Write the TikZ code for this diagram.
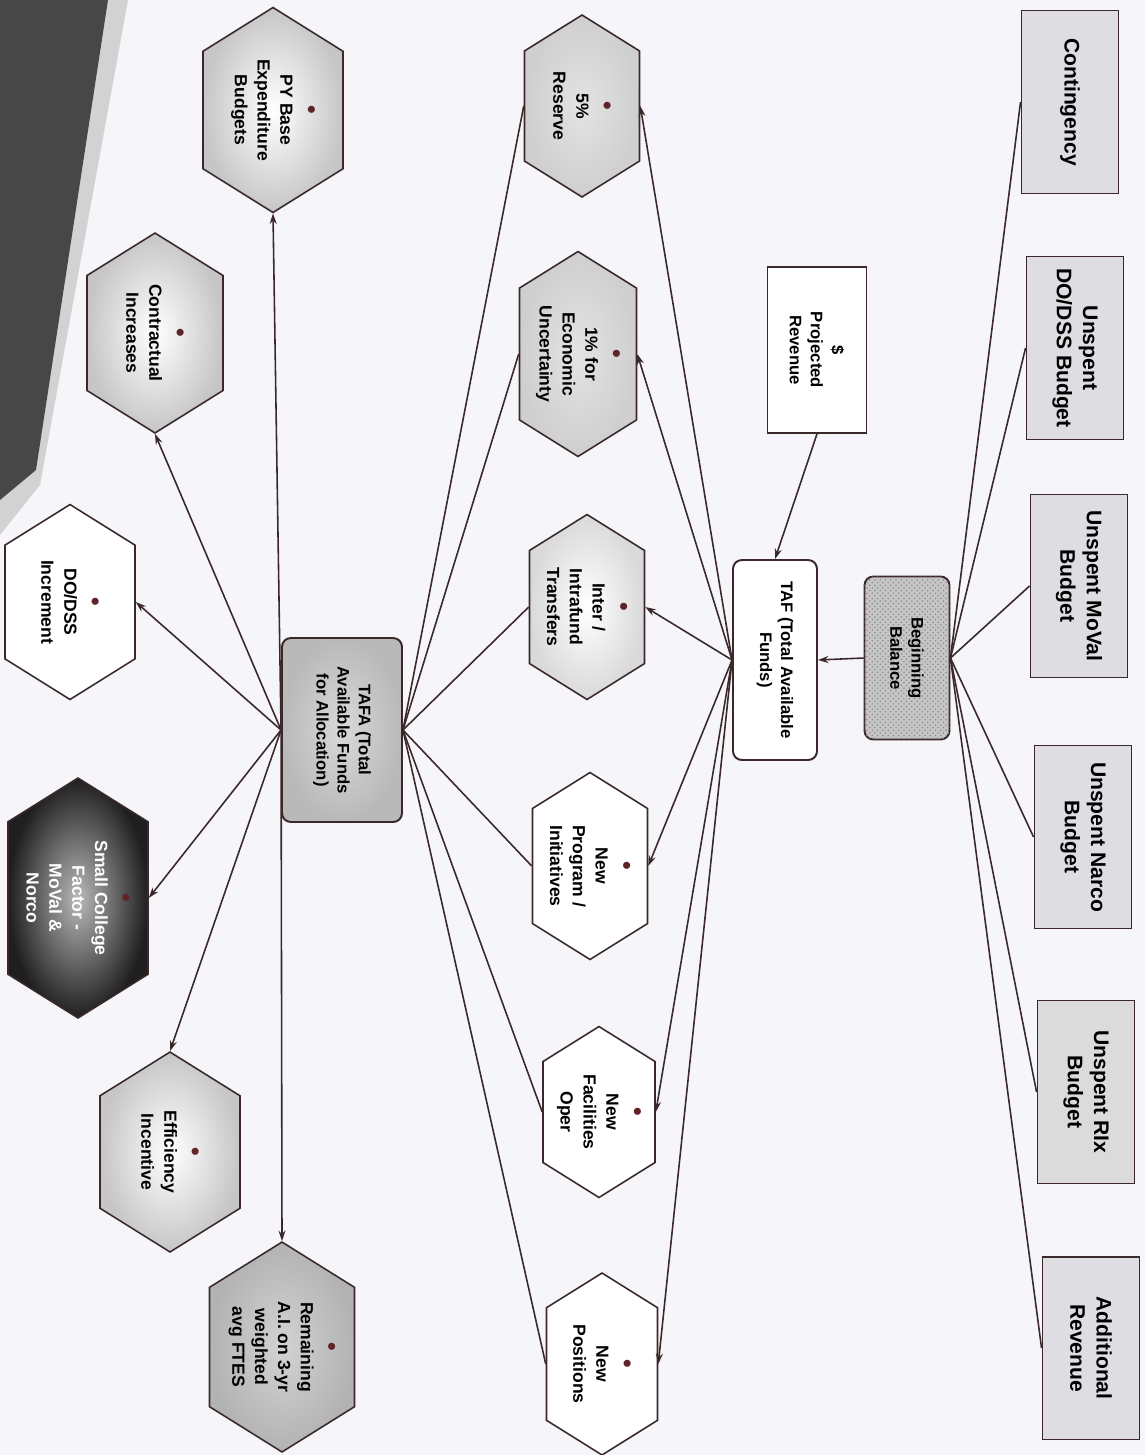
\documentclass[tikz,border=0pt]{standalone}
\usepackage{fontspec}
\setmainfont{Liberation Sans}
\usetikzlibrary{shapes.symbols,arrows.meta,patterns}

\definecolor{paper}{RGB}{246,246,250}
\definecolor{ink}{RGB}{58,40,42}
\definecolor{boxgray}{RGB}{222,222,226}
\definecolor{dotred}{RGB}{95,35,40}

\newcommand{\dotmark}{{\color{dotred}\fontsize{14}{13}\selectfont\textbullet}}

\tikzset{
  link/.style={draw=ink, line width=0.9pt},
  tip/.style={link, -{Stealth[length=6pt,width=4pt]}},
  sbox/.style={draw=ink, line width=1.1pt, fill=boxgray, rotate=-90, align=center,
    minimum width=3.66cm, minimum height=1.94cm, inner sep=2pt,
    font=\fontsize{12}{15}\selectfont\bfseries},
  rbox/.style={sbox, fill=white, rounded corners=5pt,
    font=\fontsize{9.5}{12}\selectfont\bfseries},
  hexa/.style={shape=signal, signal to=west and east, signal pointer angle=116,
    draw=ink, line width=0.9pt, rotate=-90, align=center, inner sep=1pt,
    minimum width=3.7cm, minimum height=2.3cm, fill=white,
    font=\fontsize{10}{13}\selectfont\bfseries},
  pale/.style={inner color=white, outer color=gray!45},
  mid/.style={inner color=gray!22, outer color=gray!38},
  deep/.style={inner color=gray!35, outer color=gray!60},
  dark/.style={inner color=gray!55, outer color=black!88, text=white},
}

\begin{document}
\begin{tikzpicture}[x=0.02cm,y=-0.02cm]
  \useasboundingbox (0,0) rectangle (1145,1455);
  \fill[paper] (0,0) rectangle (1145,1455);
  % page edge of the scan, top left
  \fill[gray!35] (105,0) -- (128,0) -- (40,485) -- (0,535) -- (0,495) -- cycle;
  \fill[black!72] (0,0) -- (108,0) -- (36,470) -- (0,500) -- cycle;
%
  % column of sources
  \node[sbox] (cont)   at (1070,102)  {Contingency};
  \node[sbox] (dodss)  at (1075,348)  {Unspent\\DO/DSS Budget};
  \node[sbox] (moval)  at (1079,586)  {Unspent MoVal\\Budget};
  \node[sbox] (narco)  at (1083,837)  {Unspent Narco\\Budget};
  \node[sbox, fill=gray!28] (rix) at (1086,1092) {Unspent RIx\\Budget};
  \node[sbox] (addrev) at (1091,1348) {Additional\\Revenue};
%
  \node[rbox, minimum width=3.26cm, minimum height=1.7cm, fill=gray!45,
        postaction={pattern=crosshatch dots, pattern color=black!45}] (bal) at (907,658) {Beginning\\Balance};
  \node[rbox, rounded corners=0pt, minimum width=3.32cm, minimum height=1.98cm] (prev) at (817,350) {\$\\Projected\\Revenue};
  \node[rbox, minimum width=4cm, minimum height=1.68cm] (taf) at (775,660) {TAF (Total Available\\Funds)};
%
  % set asides
  \node[hexa, mid, minimum width=3.64cm] (res5) at (582,106) {\dotmark\\5\%\\Reserve};
  \node[hexa, mid, minimum width=4.1cm, minimum height=2.34cm] (econ1) at (578,354) {\dotmark\\1\% for\\Economic\\Uncertainty};
  \node[hexa, inner color=white, outer color=gray!30] (inter) at (587,607) {\dotmark\\Inter /\\Intrafund\\Transfers};
  \node[hexa, minimum width=3.74cm] (newprog) at (590,866) {\dotmark\\New\\Program /\\Initiatives};
  \node[hexa, minimum width=3.42cm, minimum height=2.24cm] (newfac) at (599,1112) {\dotmark\\New\\Facilities\\Oper};
  \node[hexa, minimum width=3.64cm, minimum height=2.22cm] (newpos) at (602,1364) {\dotmark\\New\\Positions};
%
  \node[rbox, minimum width=3.68cm, minimum height=2.4cm, inner color=gray!30, outer color=gray!55] (tafa) at (342,730) {TAFA (Total\\Available Funds\\for Allocation)};
%
  % allocations
  \node[hexa, pale, minimum width=4.1cm, minimum height=2.8cm] (pybase) at (273,110) {\dotmark\\PY Base\\Expenditure\\Budgets};
  \node[hexa, pale, minimum width=4cm, minimum height=2.72cm] (contract) at (155,333) {\dotmark\\Contractual\\Increases};
  \node[hexa, minimum width=3.9cm, minimum height=2.6cm] (dodssinc) at (70,602) {\dotmark\\DO/DSS\\Increment};
  \node[hexa, dark, minimum width=4.8cm, minimum height=2.8cm] (small) at (78,898) {\dotmark\\Small College\\Factor -\\MoVal \&\\Norco};
  \node[hexa, pale, minimum width=4cm, minimum height=2.8cm] (effic) at (170,1152) {\dotmark\\Efficiency\\Incentive};
  \node[hexa, deep, minimum width=4.2cm, minimum height=2.9cm] (remain) at (282,1347) {\dotmark\\Remaining\\A.I. on 3-yr\\weighted\\avg FTES};
%
  \foreach \b in {cont,dodss,moval,narco,rix,addrev}
    \draw[link] (bal.north) -- (\b.south);
  \draw[tip] (bal.south) -- (taf.north);
  \draw[tip] (prev.east) -- (taf.west);
  \foreach \h in {res5,econ1,inter,newprog,newfac,newpos} {
    \draw[tip] (taf.south) -- (\h.north);
    \draw[link] (\h.south) -- (tafa.north);
  }
  \draw[tip] (tafa.south) -- (pybase.east);
  \draw[tip] (tafa.south) -- (contract.east);
  \draw[tip] (tafa.south) -- (dodssinc.north);
  \draw[tip] (tafa.south) -- (small.north);
  \draw[tip] (tafa.south) -- (effic.west);
  \draw[tip] (tafa.south) -- (remain.west);
\end{tikzpicture}
\end{document}
